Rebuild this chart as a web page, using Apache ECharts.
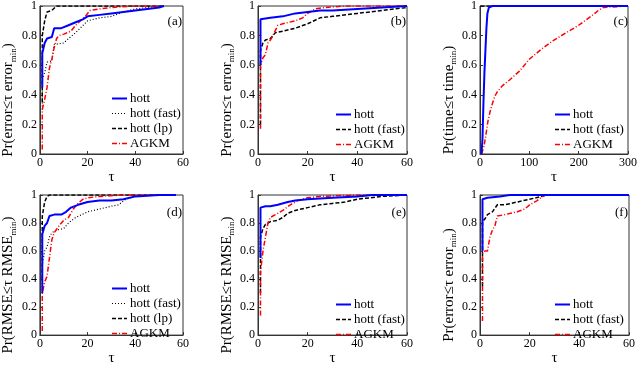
<!DOCTYPE html>
<html>
<head>
<meta charset="utf-8">
<script src="https://cdn.jsdelivr.net/npm/echarts@6/dist/echarts.min.js"></script>
<style>
html, body { margin: 0; padding: 0; background: #fff; }
#main { width: 640px; height: 367px; }
</style>
</head>
<body>
<div id="main"></div>
<script>
/* ---------------- data (tau, fraction) ---------------- */
// (a) error
var aHott     = [[1,0.45],[1,0.68],[2,0.75],[3,0.78],[5,0.79],[6,0.85],[9,0.85],[12,0.87],[15,0.89],[18,0.91],[20,0.93],[25,0.94],[30,0.95],[35,0.96],[40,0.97],[45,0.98],[50,0.99],[52,1]];
var aHottFast = [[1,0.3],[1,0.5],[2,0.55],[3,0.62],[5,0.63],[6,0.74],[10,0.75],[12,0.78],[15,0.82],[20,0.9],[25,0.92],[30,0.93],[35,0.96],[40,0.98],[45,0.99],[50,1],[52,1]];
var aHottLp   = [[1,0.35],[1,0.8],[2,0.9],[3,0.96],[5,0.97],[7,1],[52,1]];
var aAgkm     = [[1,0.03],[1,0.3],[2,0.37],[3,0.45],[4,0.58],[5,0.64],[6,0.72],[7,0.78],[8,0.8],[10,0.81],[13,0.83],[15,0.87],[17,0.9],[19,0.93],[21,0.97],[25,0.98],[30,0.99],[40,1],[52,1]];
// (b) error
var bHott     = [[1,0.6],[1,0.91],[5,0.92],[10,0.93],[15,0.95],[20,0.96],[25,0.97],[30,0.97],[40,0.98],[50,0.99],[60,1]];
var bHottFast = [[1,0.2],[1,0.7],[2,0.75],[3,0.77],[5,0.78],[7,0.82],[10,0.83],[15,0.85],[20,0.88],[25,0.92],[30,0.93],[40,0.95],[50,0.97],[60,0.99]];
var bAgkm     = [[1,0.17],[1,0.6],[2,0.65],[3,0.67],[4,0.75],[5,0.77],[6,0.8],[8,0.87],[10,0.88],[15,0.9],[18,0.92],[20,0.95],[23,0.98],[27,0.99],[35,1],[60,1]];
// (c) time
var cHott     = [[3,0],[5,0.1],[7,0.35],[9,0.55],[11,0.7],[13,0.85],[15,0.95],[18,0.99],[25,1],[300,1]];
var cHottFast = [[1,1],[300,1]];
var cAgkm     = [[3,0],[8,0.05],[12,0.13],[16,0.22],[20,0.28],[25,0.34],[30,0.39],[35,0.42],[45,0.46],[60,0.5],[80,0.56],[100,0.64],[125,0.71],[150,0.77],[175,0.82],[200,0.87],[225,0.93],[240,0.97],[250,0.99],[300,1]];
// (d) RMSE
var dHott     = [[1,0.3],[1,0.72],[2,0.78],[3,0.8],[4,0.85],[6,0.86],[9,0.86],[11,0.88],[13,0.91],[16,0.93],[20,0.95],[25,0.96],[30,0.96],[35,0.97],[40,0.99],[50,1],[57,1]];
var dHottFast = [[1,0.3],[1,0.5],[2,0.6],[3,0.63],[4,0.7],[5,0.73],[7,0.75],[10,0.76],[12,0.8],[15,0.84],[20,0.88],[25,0.9],[30,0.92],[33,0.93],[36,0.97],[40,0.99],[45,1],[57,1]];
var dHottLp   = [[1,0.4],[1,0.85],[2,0.95],[3,0.99],[4,1],[57,1]];
var dAgkm     = [[1,0.03],[1,0.3],[2,0.38],[3,0.42],[4,0.55],[5,0.68],[6,0.73],[8,0.78],[10,0.82],[12,0.84],[14,0.9],[16,0.94],[18,0.97],[20,0.98],[25,0.99],[35,1],[57,1]];
// (e) RMSE
var eHott     = [[1,0.55],[1,0.91],[3,0.92],[5,0.92],[8,0.93],[12,0.95],[15,0.96],[20,0.97],[30,0.98],[40,0.99],[46,1],[60,1]];
var eHottFast = [[1,0.3],[1,0.7],[2,0.76],[3,0.79],[5,0.81],[8,0.82],[10,0.84],[12,0.87],[15,0.89],[20,0.91],[25,0.93],[30,0.94],[35,0.95],[40,0.97],[45,0.98],[50,0.99],[60,1]];
var eAgkm     = [[1,0.14],[1,0.45],[2,0.6],[3,0.7],[4,0.8],[5,0.84],[7,0.86],[10,0.89],[13,0.93],[16,0.96],[20,0.98],[25,0.99],[40,1],[60,1]];
// (f) error
var fHott     = [[1,0.6],[1,0.97],[3,0.98],[8,0.99],[12,1],[60,1]];
var fHottFast = [[1,0.35],[1,0.81],[2,0.83],[3,0.86],[5,0.88],[7,0.93],[10,0.93],[15,0.95],[20,0.97],[25,0.99],[27,1],[60,1]];
var fAgkm     = [[1,0.1],[1,0.58],[2,0.6],[3,0.6],[4,0.7],[5,0.75],[6,0.78],[7,0.85],[10,0.86],[15,0.88],[18,0.9],[20,0.93],[23,0.96],[26,1],[60,1]];

var yTicks = [0, 0.2, 0.4, 0.6, 0.8, 1];

/* ---------------- styles ---------------- */
var FONT = '"Liberation Serif", "Times New Roman", serif';
var styles = {
    hott:   { color: '#0000ff', width: 2,   type: 'solid' },
    fast:   { color: '#000000', width: 1.2, type: [1, 2] },
    dash:   { color: '#000000', width: 1.5, type: [4, 2] },
    agkm:   { color: '#ff0000', width: 1.5, type: [5, 2, 1, 2] }
};

// panel layout: grid box in pixels, legend left edge
var panels = [
    { tag: '(a)', left: 33,  top: 4,   w: 150, h: 150, xmax: 60,  lgLeft: 111, yname: ['error', 'error'],
      lines: [['hott', aHott, 'hott'], ['hott (fast)', aHottFast, 'fast'], ['hott (lp)', aHottLp, 'dash'], ['AGKM', aAgkm, 'agkm']] },
    { tag: '(b)', left: 258, top: 4,   w: 149, h: 150, xmax: 60,  lgLeft: 335, yname: ['error', 'error'],
      lines: [['hott', bHott, 'hott'], ['hott (fast)', bHottFast, 'dash'], ['AGKM', bAgkm, 'agkm']] },
    { tag: '(c)', left: 480, top: 4,   w: 149, h: 150, xmax: 300, lgLeft: 554, yname: ['time', 'time'],
      lines: [['hott', cHott, 'hott'], ['hott (fast)', cHottFast, 'dash'], ['AGKM', cAgkm, 'agkm']] },
    { tag: '(d)', left: 33,  top: 195, w: 150, h: 149, xmax: 60,  lgLeft: 111, yname: ['RMSE', 'RMSE'],
      lines: [['hott', dHott, 'hott'], ['hott (fast)', dHottFast, 'fast'], ['hott (lp)', dHottLp, 'dash'], ['AGKM', dAgkm, 'agkm']] },
    { tag: '(e)', left: 258, top: 195, w: 149, h: 149, xmax: 60,  lgLeft: 335, yname: ['RMSE', 'RMSE'],
      lines: [['hott', eHott, 'hott'], ['hott (fast)', eHottFast, 'dash'], ['AGKM', eAgkm, 'agkm']] },
    { tag: '(f)', left: 480, top: 195, w: 149, h: 149, xmax: 60,  lgLeft: 554, yname: ['error', 'error'],
      lines: [['hott', fHott, 'hott'], ['hott (fast)', fHottFast, 'dash'], ['AGKM', fAgkm, 'agkm']] }
];

var grid = [], xAxis = [], yAxis = [], series = [], legend = [], title = [];
var axisCol = '#333';

panels.forEach(function (p, i) {
    grid.push({ left: p.left, top: p.top, width: p.w, height: p.h,
        show: true, borderColor: axisCol, borderWidth: 1, backgroundColor: '#fff' });
    xAxis.push({
        gridIndex: i, type: 'value', min: 0, max: p.xmax, interval: p.xmax / 3,
        name: 'τ', nameLocation: 'middle', nameGap: 10,
        nameTextStyle: { fontFamily: FONT, fontSize: 15, color: '#000' },
        axisLine: { show: true, lineStyle: { color: axisCol } },
        axisTick: { show: true, inside: true, length: 3, lineStyle: { color: axisCol } },
        axisLabel: { fontFamily: FONT, fontSize: 12, color: '#000', margin: 3 },
        splitLine: { show: false }
    });
    yAxis.push({
        gridIndex: i, type: 'value', min: 0, max: 1, interval: 0.2,
        name: '{m|Pr(' + p.yname[0] + '≤τ ' + p.yname[1] + '}{s|min}{m|)}',
        nameLocation: 'middle', nameRotate: 90, nameGap: 15,
        nameTextStyle: {
            padding: [0, 40, 0, 0],
            rich: {
                m: { fontFamily: FONT, fontSize: 15, color: '#000' },
                s: { fontFamily: FONT, fontSize: 9, color: '#000', padding: [10, 0, 0, 0] }
            }
        },
        axisLine: { show: true, lineStyle: { color: axisCol } },
        axisTick: { show: true, inside: true, length: 3, lineStyle: { color: axisCol } },
        axisLabel: { fontFamily: FONT, fontSize: 12, color: '#000', margin: 3,
            formatter: function (v) { return yTicks.indexOf(v) >= 0 ? String(v) : ''; } },
        splitLine: { show: false }
    });
    title.push({
        text: p.tag, right: 640 - (p.left + p.w) + 1, top: p.top + 11, padding: 0,
        textStyle: { fontFamily: FONT, fontSize: 13, fontWeight: 'normal', color: '#000' }
    });
    var names = [];
    p.lines.forEach(function (ln) {
        var st = styles[ln[2]];
        series.push({
            name: ln[0], type: 'line', xAxisIndex: i, yAxisIndex: i,
            data: ln[1], symbol: 'none', animation: false, z: ln[2] === 'hott' ? 3 : 2,
            lineStyle: { color: st.color, width: st.width, type: st.type },
            itemStyle: { color: st.color }
        });
        // legend keeps only the line sample, no marker
        names.push({ name: ln[0],
            lineStyle: { color: st.color, width: st.width, type: st.type },
            itemStyle: { color: 'rgba(0,0,0,0)', borderWidth: 0, opacity: 0 } });
    });
    var n = p.lines.length;
    var lastCenter = p.top + p.h - 7;
    legend.push({
        orient: 'vertical', left: p.lgLeft,
        top: lastCenter - 7 - (n - 1) * 16, padding: 0,
        itemWidth: 15, itemHeight: 14, itemGap: 2, selectedMode: false,
        data: names,
        textStyle: { fontFamily: FONT, fontSize: 13, color: '#000', padding: [0, 0, 0, -2] }
    });
});

var chart = echarts.init(document.getElementById('main'));
chart.setOption({
    backgroundColor: '#fff',
    animation: false,
    title: title,
    legend: legend,
    grid: grid,
    xAxis: xAxis,
    yAxis: yAxis,
    series: series
});
</script>
</body>
</html>
